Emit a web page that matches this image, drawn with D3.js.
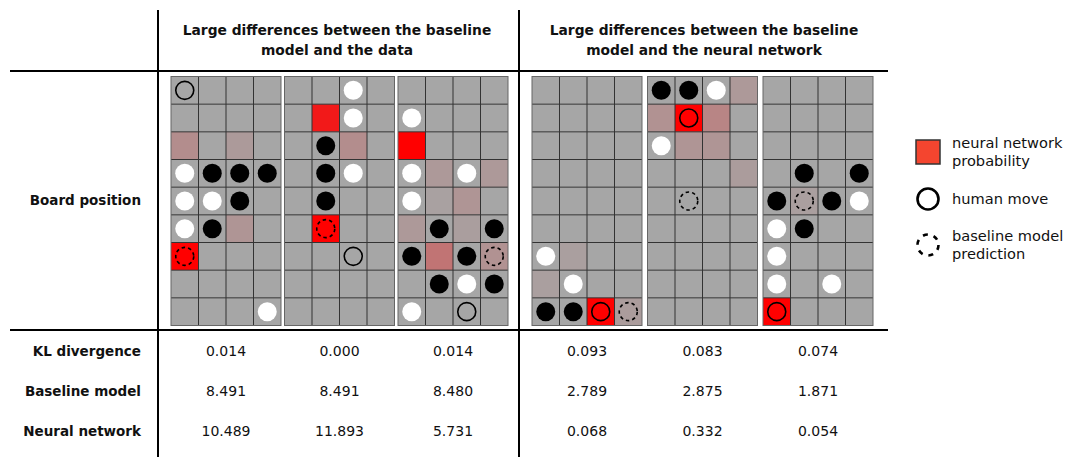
<!DOCTYPE html>
<html>
<head>
<meta charset="utf-8">
<script src="https://cdn.jsdelivr.net/npm/d3@7"></script>
<style>
  html, body { margin: 0; padding: 0; background: #fff; }
  svg { display: block; }
  text { font-family: "DejaVu Sans", Verdana, sans-serif; fill: #111; }
</style>
</head>
<body>
<svg id="chart" width="1075" height="457"></svg>
<script>
// ---- Data -------------------------------------------------------------
// Column groups and their headers
const groupTitles = [
  ["Large differences between the baseline", "model and the data"],
  ["Large differences between the baseline", "model and the neural network"]
];

// Board stones, one string per row (top to bottom): B = black, W = white, . = empty
const boardStones = [
  ["....", "....", "....", "WBBB", "WWB.", "WB..", "....", "....", "...W"],
  ["..W.", "..W.", ".B..", ".BW.", ".B..", "....", "....", "....", "...."],
  ["....", "W...", "....", "W.W.", "W...", ".B.B", "B.B.", ".BWB", "W..."],
  ["....", "....", "....", "....", "....", "....", "W...", ".W..", "BB.."],
  ["BBW.", "....", "W...", "....", "....", "....", "....", "....", "...."],
  ["....", "....", "....", ".B.B", "B.BW", "WB..", "W...", "W.W.", "...."]
];

// Neural network probability per cell: [row, col, probability]
const nnProbs = [
  [[2, 0, 0.15], [2, 2, 0.07], [5, 2, 0.10], [6, 0, 1.0]],
  [[1, 1, 0.85], [2, 2, 0.15], [5, 1, 1.0]],
  [[2, 0, 1.0], [3, 1, 0.08], [3, 3, 0.08], [4, 1, 0.03], [4, 2, 0.10], [5, 0, 0.08],
   [5, 2, 0.05], [6, 1, 0.30], [6, 3, 0.12]],
  [[6, 1, 0.04], [7, 0, 0.04], [8, 2, 1.0], [8, 3, 0.06]],
  [[0, 3, 0.08], [1, 0, 0.12], [1, 1, 1.0], [1, 2, 0.20], [2, 1, 0.10], [2, 2, 0.10], [3, 3, 0.06]],
  [[4, 1, 0.04], [8, 0, 1.0]]
];

// Observed human move and baseline model prediction: [row, col]
const humanMoves = [[0, 0], [6, 2], [8, 2], [8, 2], [1, 1], [8, 0]];
const baselinePredictions = [[6, 0], [5, 1], [6, 3], [8, 3], [4, 1], [4, 1]];

// Table rows below the boards
const rowLabels = ["Board position", "KL divergence", "Baseline model", "Neural network"];
const klDivergence = [0.014, 0.000, 0.014, 0.093, 0.083, 0.074];
const baselineLoss = [8.491, 8.491, 8.480, 2.789, 2.875, 1.871];
const networkLoss = [10.489, 11.893, 5.731, 0.068, 0.332, 0.054];

// Legend entries
const legendItems = [
  { kind: "prob", lines: ["neural network", "probability"] },
  { kind: "human", lines: ["human move"] },
  { kind: "baseline", lines: ["baseline model", "prediction"] }
];

// ---- Layout -----------------------------------------------------------
const svg = d3.select("#chart");
const nRows = 9, nCols = 4;
const boardW = 110, boardH = 249, boardTop = 76.5;
const groupLeft = [171, 532];
const groupStep = [113.5, 115.5];
const boardLeft = i => {
  const g = i < 3 ? 0 : 1;
  return groupLeft[g] + (i % 3) * groupStep[g];
};

const colScale = d3.scaleBand().domain(d3.range(nCols)).range([0, boardW]);
const rowScale = d3.scaleBand().domain(d3.range(nRows)).range([0, boardH]);
const probColor = d3.scaleLinear().domain([0, 1]).range(["#a6a6a6", "#ff0000"])
  .interpolate(d3.interpolateRgb);

const stoneR = 9.5, markR = 9;

// ---- Table rules ------------------------------------------------------
const rules = svg.append("g").attr("stroke", "#000").attr("stroke-width", 2);
rules.append("line").attr("x1", 158).attr("x2", 158).attr("y1", 10).attr("y2", 457);
rules.append("line").attr("x1", 519).attr("x2", 519).attr("y1", 10).attr("y2", 457);
rules.append("line").attr("x1", 10).attr("x2", 888).attr("y1", 71).attr("y2", 71);
rules.append("line").attr("x1", 10).attr("x2", 888).attr("y1", 330).attr("y2", 330);

// ---- Headers ----------------------------------------------------------
const headerCenters = [337, 704];
groupTitles.forEach((lines, g) => {
  const t = svg.append("text")
    .attr("x", headerCenters[g]).attr("y", 35)
    .attr("text-anchor", "middle")
    .attr("font-weight", "bold").attr("font-size", 13.8);
  lines.forEach((s, k) => t.append("tspan").attr("x", headerCenters[g]).attr("dy", k ? 20 : 0).text(s));
});

// ---- Row labels -------------------------------------------------------
const rowY = [200, 351, 391, 431];
svg.append("g").selectAll("text").data(rowLabels).join("text")
  .attr("x", 141).attr("y", (d, i) => rowY[i])
  .attr("dy", "0.35em")
  .attr("text-anchor", "end")
  .attr("font-weight", "bold").attr("font-size", 13.5)
  .text(d => d);

// ---- Boards -----------------------------------------------------------
boardStones.forEach((rows, b) => {
  const g = svg.append("g").attr("transform", `translate(${boardLeft(b)},${boardTop})`);
  const probMap = new Map(nnProbs[b].map(([r, c, p]) => [r * nCols + c, p]));
  const cells = [];
  for (let r = 0; r < nRows; r++)
    for (let c = 0; c < nCols; c++)
      cells.push({ r, c, p: probMap.get(r * nCols + c) || 0, s: rows[r][c] });

  g.selectAll("rect.cell").data(cells).join("rect")
    .attr("class", "cell")
    .attr("x", d => colScale(d.c)).attr("y", d => rowScale(d.r))
    .attr("width", colScale.bandwidth()).attr("height", rowScale.bandwidth())
    .attr("fill", d => probColor(d.p));

  // grid lines
  const grid = g.append("g").attr("stroke", "#333").attr("stroke-width", 1);
  d3.range(1, nCols).forEach(c => grid.append("line")
    .attr("x1", colScale(c)).attr("x2", colScale(c)).attr("y1", 0).attr("y2", boardH));
  d3.range(1, nRows).forEach(r => grid.append("line")
    .attr("x1", 0).attr("x2", boardW).attr("y1", rowScale(r)).attr("y2", rowScale(r)));
  g.append("rect").attr("width", boardW).attr("height", boardH)
    .attr("fill", "none").attr("stroke", "#666").attr("stroke-width", 1);

  const cx = c => colScale(c) + colScale.bandwidth() / 2;
  const cy = r => rowScale(r) + rowScale.bandwidth() / 2;

  g.selectAll("circle.stone").data(cells.filter(d => d.s !== ".")).join("circle")
    .attr("class", "stone")
    .attr("cx", d => cx(d.c)).attr("cy", d => cy(d.r)).attr("r", stoneR)
    .attr("fill", d => d.s === "B" ? "#000" : "#fff");

  const [hr, hc] = humanMoves[b];
  g.append("circle").attr("cx", cx(hc)).attr("cy", cy(hr)).attr("r", markR)
    .attr("fill", "none").attr("stroke", "#000").attr("stroke-width", 1.6);

  const [pr, pc] = baselinePredictions[b];
  g.append("circle").attr("cx", cx(pc)).attr("cy", cy(pr)).attr("r", markR)
    .attr("fill", "none").attr("stroke", "#000").attr("stroke-width", 1.6)
    .attr("stroke-dasharray", "3.5,3");
});

// ---- Numeric rows -----------------------------------------------------
const boardCenter = b => boardLeft(b) + boardW / 2;
[klDivergence, baselineLoss, networkLoss].forEach((vals, k) => {
  svg.append("g").selectAll("text").data(vals).join("text")
    .attr("x", (d, i) => boardCenter(i)).attr("y", rowY[k + 1])
    .attr("dy", "0.35em").attr("text-anchor", "middle")
    .attr("font-size", 14)
    .text(d => d3.format(".3f")(d));
});

// ---- Legend -----------------------------------------------------------
const legendY = [152, 199, 245];
const legend = svg.append("g");
legendItems.forEach((item, i) => {
  const y = legendY[i];
  if (item.kind === "prob") {
    legend.append("rect").attr("x", 916).attr("y", y - 12).attr("width", 24).attr("height", 24)
      .attr("fill", "#f4452f").attr("stroke", "#333").attr("stroke-width", 1.5);
  } else {
    legend.append("circle").attr("cx", 928).attr("cy", y).attr("r", 10.5)
      .attr("fill", "none").attr("stroke", "#000").attr("stroke-width", 2.6)
      .attr("stroke-dasharray", item.kind === "baseline" ? "5,6" : null);
  }
  const t = legend.append("text").attr("x", 952).attr("font-size", 14.6);
  const y0 = y - (item.lines.length - 1) * 9;
  item.lines.forEach((s, k) => t.append("tspan").attr("x", 952).attr("y", y0 + k * 18)
    .attr("dy", "0.35em").text(s));
});
</script>
</body>
</html>
